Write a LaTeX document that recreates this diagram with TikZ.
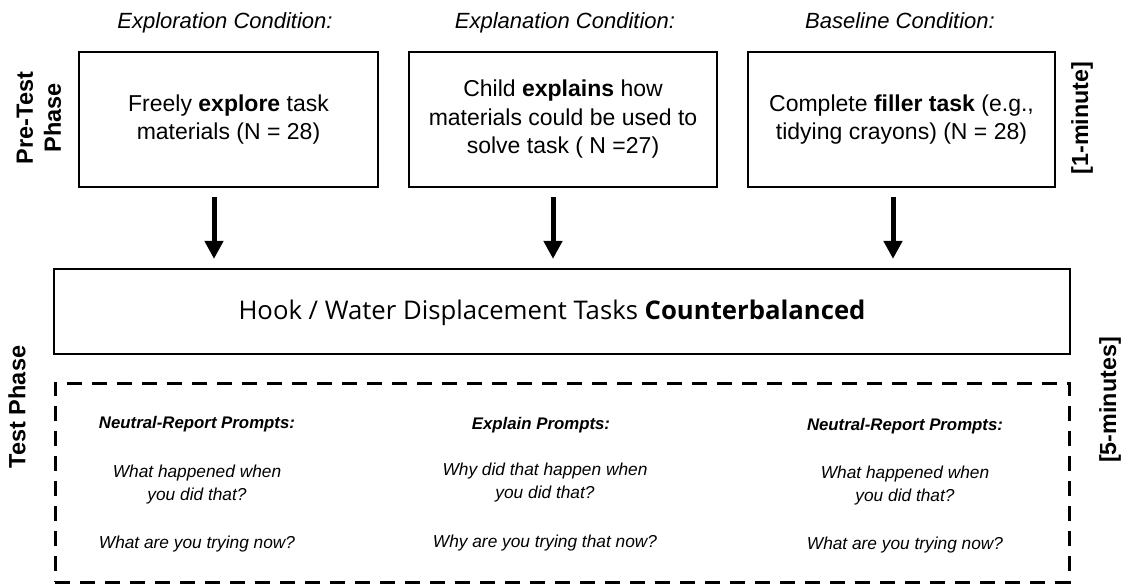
\documentclass[tikz,border=0pt]{standalone}
\usepackage{fontspec}
\setmainfont{Liberation Sans}
\newfontfamily\hookfont{Open Sans}
\usetikzlibrary{arrows.meta}
\tikzset{
  condbox/.style={draw, line width=2.6pt, align=center, inner sep=0pt,
    font=\fontsize{23}{28.5}\selectfont},
  condhead/.style={anchor=base, font=\fontsize{22}{26}\selectfont\itshape},
  phaselabel/.style={rotate=90, align=center, font=\fontsize{23.5}{28}\selectfont\bfseries},
  timelabel/.style={rotate=90, font=\fontsize{23.3}{28}\selectfont\bfseries},
  bigarrow/.style={line width=5pt, -{Triangle[width=18pt,length=18pt]}, shorten <=9pt, shorten >=9pt},
  hookbox/.style={draw, line width=2.2pt, inner sep=0pt},
  testbox/.style={draw, line width=3pt, dash pattern=on 15pt off 10pt, inner sep=0pt},
  prompthead/.style={anchor=base, font=\fontsize{16.8}{20}\selectfont\bfseries\itshape},
  prompt/.style={anchor=base, align=center, font=\fontsize{17.3}{23}\selectfont\itshape},
}
\begin{document}
\begin{tikzpicture}[x=1pt,y=-1pt]
\useasboundingbox (0,0) rectangle (1148,585);

% condition headers
\node[condhead] (h1) at (225,29) {Exploration Condition:};
\node[condhead] (h2) at (565,29) {Explanation Condition:};
\node[condhead] (h3) at (900,29) {Baseline Condition:};

% condition boxes
\node[condbox, minimum width=299pt, minimum height=135pt] (b1) at (228.5,119.5)
  {Freely \textbf{explore} task\\materials (N = 28)};
\node[condbox, minimum width=308pt, minimum height=135pt] (b2) at (563,119.5)
  {Child \textbf{explains} how\\materials could be used to\\solve task ( N =27)};
\node[condbox, minimum width=307pt, minimum height=135pt] (b3) at (901.5,119.5)
  {Complete \textbf{filler task} (e.g.,\\tidying crayons) (N = 28)};

% side labels
\node[phaselabel] (pre) at (39,118) {Pre-Test\\Phase};
\node[phaselabel] (tp) at (17,407) {Test Phase};
\node[timelabel] (t1) at (1082,118) {[1-minute]};
\node[timelabel] (t5) at (1110,400) {[5-minutes]};

% hook box
\node[hookbox, minimum width=1016pt, minimum height=85pt] (hook) at (562,311.5) {};
\node[font=\hookfont\fontsize{25.7}{30}\selectfont] (hooktext) at (552,313)
  {Hook / Water Displacement Tasks \textbf{Counterbalanced}};

% arrows
\draw[bigarrow] (b1.south -| 214,0) -- (214,0 |- hook.north);
\draw[bigarrow] (b2.south -| 553,0) -- (553,0 |- hook.north);
\draw[bigarrow] (b3.south -| 893,0) -- (893,0 |- hook.north);

% test phase dashed box
\node[testbox, minimum width=1014pt, minimum height=199pt] (test) at (562,482.5) {};

% prompts column 1
\node[prompthead] (p1h) at (197,428) {Neutral-Report Prompts:};
\node[prompt] (p1a) at (197,500) {What happened when\\you did that?};
\node[prompt] (p1b) at (197,548) {What are you trying now?};
% column 2
\node[prompthead] (p2h) at (541,429) {Explain Prompts:};
\node[prompt] (p2a) at (545,498) {Why did that happen when\\you did that?};
\node[prompt] (p2b) at (545,547) {Why are you trying that now?};
% column 3
\node[prompthead] (p3h) at (905,430) {Neutral-Report Prompts:};
\node[prompt] (p3a) at (905,501) {What happened when\\you did that?};
\node[prompt] (p3b) at (905,549) {What are you trying now?};
\end{tikzpicture}
\end{document}
